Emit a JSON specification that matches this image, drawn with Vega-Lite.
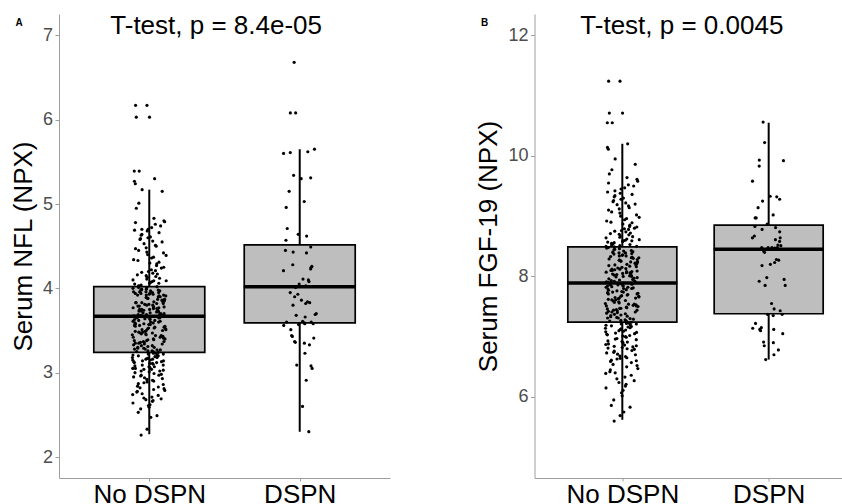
{
"$schema": "https://vega.github.io/schema/vega-lite/v6.json",
"padding": {"left": 10, "top": 13, "right": 0, "bottom": 0},
"spacing": 85.5,
"config": {
 "font": "Liberation Sans",
 "view": {"stroke": null},
 "axisY": {"labelFontSize": 18, "labelColor": "#4D4D4D", "tickColor": "#9E9E9E", "domainColor": "#9E9E9E", "tickSize": 4, "labelPadding": 2.5, "titleFontSize": 26, "titleFontWeight": "normal", "titleColor": "black", "grid": false, "titlePadding": 6, "format": "d"},
 "axisX": {"labelFontSize": 26, "labelColor": "black", "tickColor": "#9E9E9E", "domainColor": "#9E9E9E", "tickSize": 3, "labelPadding": 0, "labelAngle": 0, "grid": false},
 "title": {"fontSize": 10, "fontWeight": "bold", "color": "black", "anchor": "start", "frame": "bounds"}
},
"datasets": {
 "boxA": [{"g":"No DSPN","lo":2.27,"q1":3.24,"med":3.67,"q3":4.02,"hi":5.17},{"g":"DSPN","lo":2.30,"q1":3.59,"med":4.02,"q3":4.515,"hi":5.65}],
 "boxB": [{"g":"No DSPN","lo":5.62,"q1":7.24,"med":7.89,"q3":8.49,"hi":10.20},{"g":"DSPN","lo":6.62,"q1":7.38,"med":8.45,"q3":8.85,"hi":10.55}],
 "labA": [{"g":"No DSPN","y":7.01,"label":"T-test, p = 8.4e-05"}],
 "labB": [{"g":"No DSPN","y":12.02,"label":"T-test, p = 0.0045"}],
 "ptsA": [
{"g":"No DSPN","v":2.26},{"g":"No DSPN","v":2.33},{"g":"No DSPN","v":2.47},{"g":"No DSPN","v":2.49},{"g":"No DSPN","v":2.53},{"g":"No DSPN","v":2.57},{"g":"No DSPN","v":2.59},
{"g":"No DSPN","v":2.61},{"g":"No DSPN","v":2.62},{"g":"No DSPN","v":2.64},{"g":"No DSPN","v":2.66},{"g":"No DSPN","v":2.67},{"g":"No DSPN","v":2.68},{"g":"No DSPN","v":2.69},
{"g":"No DSPN","v":2.70},{"g":"No DSPN","v":2.71},{"g":"No DSPN","v":2.73},{"g":"No DSPN","v":2.74},{"g":"No DSPN","v":2.75},{"g":"No DSPN","v":2.77},{"g":"No DSPN","v":2.78},{"g":"No DSPN","v":2.79},
{"g":"No DSPN","v":2.80},{"g":"No DSPN","v":2.81},{"g":"No DSPN","v":2.82},{"g":"No DSPN","v":2.83},{"g":"No DSPN","v":2.84},{"g":"No DSPN","v":2.86},{"g":"No DSPN","v":2.87},{"g":"No DSPN","v":2.88},{"g":"No DSPN","v":2.89},
{"g":"No DSPN","v":2.90},{"g":"No DSPN","v":2.91},{"g":"No DSPN","v":2.92},{"g":"No DSPN","v":2.93},{"g":"No DSPN","v":2.94},{"g":"No DSPN","v":2.95},{"g":"No DSPN","v":2.96},{"g":"No DSPN","v":2.97},{"g":"No DSPN","v":2.97},{"g":"No DSPN","v":2.98},{"g":"No DSPN","v":2.99},
{"g":"No DSPN","v":3.00},{"g":"No DSPN","v":3.01},{"g":"No DSPN","v":3.02},{"g":"No DSPN","v":3.02},{"g":"No DSPN","v":3.03},{"g":"No DSPN","v":3.04},{"g":"No DSPN","v":3.05},{"g":"No DSPN","v":3.05},{"g":"No DSPN","v":3.06},{"g":"No DSPN","v":3.07},{"g":"No DSPN","v":3.07},{"g":"No DSPN","v":3.08},{"g":"No DSPN","v":3.09},{"g":"No DSPN","v":3.09},{"g":"No DSPN","v":3.04},
{"g":"No DSPN","v":3.10},{"g":"No DSPN","v":3.11},{"g":"No DSPN","v":3.11},{"g":"No DSPN","v":3.12},{"g":"No DSPN","v":3.12},{"g":"No DSPN","v":3.13},{"g":"No DSPN","v":3.13},{"g":"No DSPN","v":3.14},{"g":"No DSPN","v":3.14},{"g":"No DSPN","v":3.15},{"g":"No DSPN","v":3.15},{"g":"No DSPN","v":3.16},{"g":"No DSPN","v":3.16},{"g":"No DSPN","v":3.17},{"g":"No DSPN","v":3.17},{"g":"No DSPN","v":3.18},{"g":"No DSPN","v":3.18},{"g":"No DSPN","v":3.19},
{"g":"No DSPN","v":3.20},{"g":"No DSPN","v":3.20},{"g":"No DSPN","v":3.21},{"g":"No DSPN","v":3.21},{"g":"No DSPN","v":3.22},{"g":"No DSPN","v":3.22},{"g":"No DSPN","v":3.23},{"g":"No DSPN","v":3.23},{"g":"No DSPN","v":3.24},{"g":"No DSPN","v":3.24},{"g":"No DSPN","v":3.25},{"g":"No DSPN","v":3.25},{"g":"No DSPN","v":3.26},{"g":"No DSPN","v":3.26},{"g":"No DSPN","v":3.27},{"g":"No DSPN","v":3.27},{"g":"No DSPN","v":3.28},{"g":"No DSPN","v":3.28},{"g":"No DSPN","v":3.29},{"g":"No DSPN","v":3.29},
{"g":"No DSPN","v":3.30},{"g":"No DSPN","v":3.30},{"g":"No DSPN","v":3.31},{"g":"No DSPN","v":3.32},{"g":"No DSPN","v":3.32},{"g":"No DSPN","v":3.33},{"g":"No DSPN","v":3.34},{"g":"No DSPN","v":3.34},{"g":"No DSPN","v":3.35},{"g":"No DSPN","v":3.35},{"g":"No DSPN","v":3.36},{"g":"No DSPN","v":3.36},{"g":"No DSPN","v":3.37},{"g":"No DSPN","v":3.37},{"g":"No DSPN","v":3.38},{"g":"No DSPN","v":3.38},{"g":"No DSPN","v":3.39},{"g":"No DSPN","v":3.39},
{"g":"No DSPN","v":3.40},{"g":"No DSPN","v":3.40},{"g":"No DSPN","v":3.41},{"g":"No DSPN","v":3.42},{"g":"No DSPN","v":3.42},{"g":"No DSPN","v":3.43},{"g":"No DSPN","v":3.44},{"g":"No DSPN","v":3.44},{"g":"No DSPN","v":3.45},{"g":"No DSPN","v":3.45},{"g":"No DSPN","v":3.46},{"g":"No DSPN","v":3.46},{"g":"No DSPN","v":3.47},{"g":"No DSPN","v":3.47},{"g":"No DSPN","v":3.48},{"g":"No DSPN","v":3.48},{"g":"No DSPN","v":3.49},{"g":"No DSPN","v":3.49},
{"g":"No DSPN","v":3.50},{"g":"No DSPN","v":3.50},{"g":"No DSPN","v":3.51},{"g":"No DSPN","v":3.51},{"g":"No DSPN","v":3.52},{"g":"No DSPN","v":3.52},{"g":"No DSPN","v":3.53},{"g":"No DSPN","v":3.53},{"g":"No DSPN","v":3.54},{"g":"No DSPN","v":3.54},{"g":"No DSPN","v":3.55},{"g":"No DSPN","v":3.55},{"g":"No DSPN","v":3.56},{"g":"No DSPN","v":3.56},{"g":"No DSPN","v":3.57},{"g":"No DSPN","v":3.57},{"g":"No DSPN","v":3.58},{"g":"No DSPN","v":3.58},{"g":"No DSPN","v":3.59},{"g":"No DSPN","v":3.59},
{"g":"No DSPN","v":3.60},{"g":"No DSPN","v":3.60},{"g":"No DSPN","v":3.61},{"g":"No DSPN","v":3.61},{"g":"No DSPN","v":3.62},{"g":"No DSPN","v":3.62},{"g":"No DSPN","v":3.63},{"g":"No DSPN","v":3.63},{"g":"No DSPN","v":3.64},{"g":"No DSPN","v":3.64},{"g":"No DSPN","v":3.65},{"g":"No DSPN","v":3.65},{"g":"No DSPN","v":3.65},{"g":"No DSPN","v":3.66},{"g":"No DSPN","v":3.66},{"g":"No DSPN","v":3.67},{"g":"No DSPN","v":3.67},{"g":"No DSPN","v":3.67},{"g":"No DSPN","v":3.68},{"g":"No DSPN","v":3.68},{"g":"No DSPN","v":3.69},{"g":"No DSPN","v":3.69},{"g":"No DSPN","v":3.69},{"g":"No DSPN","v":3.66},
{"g":"No DSPN","v":3.70},{"g":"No DSPN","v":3.70},{"g":"No DSPN","v":3.71},{"g":"No DSPN","v":3.71},{"g":"No DSPN","v":3.72},{"g":"No DSPN","v":3.72},{"g":"No DSPN","v":3.73},{"g":"No DSPN","v":3.73},{"g":"No DSPN","v":3.74},{"g":"No DSPN","v":3.74},{"g":"No DSPN","v":3.75},{"g":"No DSPN","v":3.75},{"g":"No DSPN","v":3.76},{"g":"No DSPN","v":3.76},{"g":"No DSPN","v":3.77},{"g":"No DSPN","v":3.77},{"g":"No DSPN","v":3.78},{"g":"No DSPN","v":3.78},{"g":"No DSPN","v":3.79},{"g":"No DSPN","v":3.79},{"g":"No DSPN","v":3.75},{"g":"No DSPN","v":3.73},
{"g":"No DSPN","v":3.80},{"g":"No DSPN","v":3.80},{"g":"No DSPN","v":3.81},{"g":"No DSPN","v":3.81},{"g":"No DSPN","v":3.82},{"g":"No DSPN","v":3.82},{"g":"No DSPN","v":3.83},{"g":"No DSPN","v":3.83},{"g":"No DSPN","v":3.84},{"g":"No DSPN","v":3.84},{"g":"No DSPN","v":3.85},{"g":"No DSPN","v":3.85},{"g":"No DSPN","v":3.86},{"g":"No DSPN","v":3.86},{"g":"No DSPN","v":3.87},{"g":"No DSPN","v":3.87},{"g":"No DSPN","v":3.88},{"g":"No DSPN","v":3.88},{"g":"No DSPN","v":3.89},{"g":"No DSPN","v":3.89},{"g":"No DSPN","v":3.85},{"g":"No DSPN","v":3.83},
{"g":"No DSPN","v":3.90},{"g":"No DSPN","v":3.90},{"g":"No DSPN","v":3.91},{"g":"No DSPN","v":3.91},{"g":"No DSPN","v":3.92},{"g":"No DSPN","v":3.92},{"g":"No DSPN","v":3.93},{"g":"No DSPN","v":3.93},{"g":"No DSPN","v":3.94},{"g":"No DSPN","v":3.94},{"g":"No DSPN","v":3.95},{"g":"No DSPN","v":3.95},{"g":"No DSPN","v":3.96},{"g":"No DSPN","v":3.96},{"g":"No DSPN","v":3.97},{"g":"No DSPN","v":3.97},{"g":"No DSPN","v":3.98},{"g":"No DSPN","v":3.98},{"g":"No DSPN","v":3.99},{"g":"No DSPN","v":3.99},{"g":"No DSPN","v":3.96},{"g":"No DSPN","v":3.94},{"g":"No DSPN","v":3.98},{"g":"No DSPN","v":3.92},
{"g":"No DSPN","v":4.00},{"g":"No DSPN","v":4.01},{"g":"No DSPN","v":4.01},{"g":"No DSPN","v":4.02},{"g":"No DSPN","v":4.03},{"g":"No DSPN","v":4.03},{"g":"No DSPN","v":4.04},{"g":"No DSPN","v":4.05},{"g":"No DSPN","v":4.06},{"g":"No DSPN","v":4.06},{"g":"No DSPN","v":4.07},{"g":"No DSPN","v":4.08},{"g":"No DSPN","v":4.09},{"g":"No DSPN","v":4.09},
{"g":"No DSPN","v":4.10},{"g":"No DSPN","v":4.11},{"g":"No DSPN","v":4.12},{"g":"No DSPN","v":4.13},{"g":"No DSPN","v":4.14},{"g":"No DSPN","v":4.15},{"g":"No DSPN","v":4.16},{"g":"No DSPN","v":4.17},{"g":"No DSPN","v":4.18},{"g":"No DSPN","v":4.19},
{"g":"No DSPN","v":4.20},{"g":"No DSPN","v":4.21},{"g":"No DSPN","v":4.22},{"g":"No DSPN","v":4.24},{"g":"No DSPN","v":4.25},{"g":"No DSPN","v":4.27},{"g":"No DSPN","v":4.29},
{"g":"No DSPN","v":4.30},{"g":"No DSPN","v":4.31},{"g":"No DSPN","v":4.33},{"g":"No DSPN","v":4.34},{"g":"No DSPN","v":4.36},{"g":"No DSPN","v":4.37},{"g":"No DSPN","v":4.39},
{"g":"No DSPN","v":4.40},{"g":"No DSPN","v":4.42},{"g":"No DSPN","v":4.43},{"g":"No DSPN","v":4.45},{"g":"No DSPN","v":4.47},{"g":"No DSPN","v":4.48},
{"g":"No DSPN","v":4.50},{"g":"No DSPN","v":4.51},{"g":"No DSPN","v":4.53},{"g":"No DSPN","v":4.55},{"g":"No DSPN","v":4.56},{"g":"No DSPN","v":4.58},{"g":"No DSPN","v":4.59},
{"g":"No DSPN","v":4.60},{"g":"No DSPN","v":4.61},{"g":"No DSPN","v":4.63},{"g":"No DSPN","v":4.64},{"g":"No DSPN","v":4.66},{"g":"No DSPN","v":4.68},{"g":"No DSPN","v":4.69},
{"g":"No DSPN","v":4.70},{"g":"No DSPN","v":4.70},{"g":"No DSPN","v":4.72},{"g":"No DSPN","v":4.74},{"g":"No DSPN","v":4.76},{"g":"No DSPN","v":4.78},{"g":"No DSPN","v":4.79},
{"g":"No DSPN","v":4.80},{"g":"No DSPN","v":4.83},{"g":"No DSPN","v":4.95},{"g":"No DSPN","v":5.01},{"g":"No DSPN","v":5.15},{"g":"No DSPN","v":5.17},{"g":"No DSPN","v":5.24},{"g":"No DSPN","v":5.27},{"g":"No DSPN","v":5.30},{"g":"No DSPN","v":5.39},{"g":"No DSPN","v":5.39},{"g":"No DSPN","v":6.03},{"g":"No DSPN","v":6.03},{"g":"No DSPN","v":6.17},{"g":"No DSPN","v":6.17},
{"g":"DSPN","v":6.68},{"g":"DSPN","v":6.08},{"g":"DSPN","v":6.08},{"g":"DSPN","v":5.65},{"g":"DSPN","v":5.61},{"g":"DSPN","v":5.60},{"g":"DSPN","v":5.62},{"g":"DSPN","v":5.34},{"g":"DSPN","v":5.30},{"g":"DSPN","v":5.31},
{"g":"DSPN","v":5.15},{"g":"DSPN","v":5.03},{"g":"DSPN","v":4.96},{"g":"DSPN","v":4.71},{"g":"DSPN","v":4.64},{"g":"DSPN","v":4.57},{"g":"DSPN","v":4.62},{"g":"DSPN","v":4.49},{"g":"DSPN","v":4.43},{"g":"DSPN","v":4.45},
{"g":"DSPN","v":4.42},{"g":"DSPN","v":4.25},{"g":"DSPN","v":4.21},{"g":"DSPN","v":4.23},{"g":"DSPN","v":4.26},{"g":"DSPN","v":4.28},{"g":"DSPN","v":4.11},{"g":"DSPN","v":4.03},{"g":"DSPN","v":4.05},{"g":"DSPN","v":4.10},
{"g":"DSPN","v":4.08},{"g":"DSPN","v":4.01},{"g":"DSPN","v":3.90},{"g":"DSPN","v":3.83},{"g":"DSPN","v":3.86},{"g":"DSPN","v":3.82},{"g":"DSPN","v":3.84},{"g":"DSPN","v":3.80},{"g":"DSPN","v":3.95},{"g":"DSPN","v":3.93},
{"g":"DSPN","v":3.69},{"g":"DSPN","v":3.68},{"g":"DSPN","v":3.70},{"g":"DSPN","v":3.61},{"g":"DSPN","v":3.66},{"g":"DSPN","v":3.60},{"g":"DSPN","v":3.58},{"g":"DSPN","v":3.59},{"g":"DSPN","v":3.57},{"g":"DSPN","v":3.60},
{"g":"DSPN","v":3.56},{"g":"DSPN","v":3.58},{"g":"DSPN","v":3.51},{"g":"DSPN","v":3.43},{"g":"DSPN","v":3.44},{"g":"DSPN","v":3.41},{"g":"DSPN","v":3.35},{"g":"DSPN","v":3.37},{"g":"DSPN","v":3.36},{"g":"DSPN","v":3.33},
{"g":"DSPN","v":3.23},{"g":"DSPN","v":3.09},{"g":"DSPN","v":3.08},{"g":"DSPN","v":3.05},{"g":"DSPN","v":2.91},{"g":"DSPN","v":2.60},{"g":"DSPN","v":2.30}
 ],
 "ptsB": [
{"g":"No DSPN","v":5.60},{"g":"No DSPN","v":5.69},{"g":"No DSPN","v":5.75},{"g":"No DSPN","v":5.83},{"g":"No DSPN","v":5.86},{"g":"No DSPN","v":5.95},
{"g":"No DSPN","v":6.02},{"g":"No DSPN","v":6.07},{"g":"No DSPN","v":6.11},{"g":"No DSPN","v":6.15},{"g":"No DSPN","v":6.18},
{"g":"No DSPN","v":6.21},{"g":"No DSPN","v":6.24},{"g":"No DSPN","v":6.27},{"g":"No DSPN","v":6.30},{"g":"No DSPN","v":6.33},{"g":"No DSPN","v":6.36},{"g":"No DSPN","v":6.39},
{"g":"No DSPN","v":6.40},{"g":"No DSPN","v":6.42},{"g":"No DSPN","v":6.45},{"g":"No DSPN","v":6.47},{"g":"No DSPN","v":6.50},{"g":"No DSPN","v":6.52},{"g":"No DSPN","v":6.54},{"g":"No DSPN","v":6.57},{"g":"No DSPN","v":6.59},
{"g":"No DSPN","v":6.60},{"g":"No DSPN","v":6.61},{"g":"No DSPN","v":6.63},{"g":"No DSPN","v":6.64},{"g":"No DSPN","v":6.65},{"g":"No DSPN","v":6.67},{"g":"No DSPN","v":6.68},{"g":"No DSPN","v":6.70},{"g":"No DSPN","v":6.71},{"g":"No DSPN","v":6.73},{"g":"No DSPN","v":6.74},{"g":"No DSPN","v":6.76},{"g":"No DSPN","v":6.77},{"g":"No DSPN","v":6.79},
{"g":"No DSPN","v":6.80},{"g":"No DSPN","v":6.81},{"g":"No DSPN","v":6.82},{"g":"No DSPN","v":6.83},{"g":"No DSPN","v":6.84},{"g":"No DSPN","v":6.85},{"g":"No DSPN","v":6.86},{"g":"No DSPN","v":6.87},{"g":"No DSPN","v":6.88},{"g":"No DSPN","v":6.90},{"g":"No DSPN","v":6.91},{"g":"No DSPN","v":6.92},{"g":"No DSPN","v":6.93},{"g":"No DSPN","v":6.95},{"g":"No DSPN","v":6.96},{"g":"No DSPN","v":6.97},{"g":"No DSPN","v":6.99},
{"g":"No DSPN","v":7.00},{"g":"No DSPN","v":7.01},{"g":"No DSPN","v":7.02},{"g":"No DSPN","v":7.03},{"g":"No DSPN","v":7.04},{"g":"No DSPN","v":7.05},{"g":"No DSPN","v":7.06},{"g":"No DSPN","v":7.07},{"g":"No DSPN","v":7.08},{"g":"No DSPN","v":7.09},{"g":"No DSPN","v":7.10},{"g":"No DSPN","v":7.11},{"g":"No DSPN","v":7.12},{"g":"No DSPN","v":7.13},{"g":"No DSPN","v":7.14},{"g":"No DSPN","v":7.15},{"g":"No DSPN","v":7.16},{"g":"No DSPN","v":7.17},{"g":"No DSPN","v":7.18},{"g":"No DSPN","v":7.19},
{"g":"No DSPN","v":7.20},{"g":"No DSPN","v":7.21},{"g":"No DSPN","v":7.21},{"g":"No DSPN","v":7.22},{"g":"No DSPN","v":7.23},{"g":"No DSPN","v":7.24},{"g":"No DSPN","v":7.25},{"g":"No DSPN","v":7.26},{"g":"No DSPN","v":7.26},{"g":"No DSPN","v":7.27},{"g":"No DSPN","v":7.28},{"g":"No DSPN","v":7.29},{"g":"No DSPN","v":7.30},{"g":"No DSPN","v":7.31},{"g":"No DSPN","v":7.31},{"g":"No DSPN","v":7.32},{"g":"No DSPN","v":7.33},{"g":"No DSPN","v":7.34},{"g":"No DSPN","v":7.35},{"g":"No DSPN","v":7.36},{"g":"No DSPN","v":7.37},{"g":"No DSPN","v":7.38},{"g":"No DSPN","v":7.39},
{"g":"No DSPN","v":7.40},{"g":"No DSPN","v":7.41},{"g":"No DSPN","v":7.41},{"g":"No DSPN","v":7.42},{"g":"No DSPN","v":7.43},{"g":"No DSPN","v":7.44},{"g":"No DSPN","v":7.44},{"g":"No DSPN","v":7.45},{"g":"No DSPN","v":7.46},{"g":"No DSPN","v":7.47},{"g":"No DSPN","v":7.47},{"g":"No DSPN","v":7.48},{"g":"No DSPN","v":7.49},{"g":"No DSPN","v":7.50},{"g":"No DSPN","v":7.51},{"g":"No DSPN","v":7.51},{"g":"No DSPN","v":7.52},{"g":"No DSPN","v":7.53},{"g":"No DSPN","v":7.54},{"g":"No DSPN","v":7.54},{"g":"No DSPN","v":7.55},{"g":"No DSPN","v":7.56},{"g":"No DSPN","v":7.57},{"g":"No DSPN","v":7.58},{"g":"No DSPN","v":7.59},
{"g":"No DSPN","v":7.60},{"g":"No DSPN","v":7.61},{"g":"No DSPN","v":7.61},{"g":"No DSPN","v":7.62},{"g":"No DSPN","v":7.63},{"g":"No DSPN","v":7.64},{"g":"No DSPN","v":7.64},{"g":"No DSPN","v":7.65},{"g":"No DSPN","v":7.66},{"g":"No DSPN","v":7.67},{"g":"No DSPN","v":7.67},{"g":"No DSPN","v":7.68},{"g":"No DSPN","v":7.69},{"g":"No DSPN","v":7.70},{"g":"No DSPN","v":7.71},{"g":"No DSPN","v":7.71},{"g":"No DSPN","v":7.72},{"g":"No DSPN","v":7.73},{"g":"No DSPN","v":7.74},{"g":"No DSPN","v":7.74},{"g":"No DSPN","v":7.75},{"g":"No DSPN","v":7.76},{"g":"No DSPN","v":7.77},{"g":"No DSPN","v":7.78},{"g":"No DSPN","v":7.79},
{"g":"No DSPN","v":7.80},{"g":"No DSPN","v":7.80},{"g":"No DSPN","v":7.81},{"g":"No DSPN","v":7.82},{"g":"No DSPN","v":7.82},{"g":"No DSPN","v":7.83},{"g":"No DSPN","v":7.84},{"g":"No DSPN","v":7.84},{"g":"No DSPN","v":7.85},{"g":"No DSPN","v":7.86},{"g":"No DSPN","v":7.86},{"g":"No DSPN","v":7.87},{"g":"No DSPN","v":7.88},{"g":"No DSPN","v":7.88},{"g":"No DSPN","v":7.89},{"g":"No DSPN","v":7.90},{"g":"No DSPN","v":7.90},{"g":"No DSPN","v":7.91},{"g":"No DSPN","v":7.92},{"g":"No DSPN","v":7.92},{"g":"No DSPN","v":7.93},{"g":"No DSPN","v":7.94},{"g":"No DSPN","v":7.95},{"g":"No DSPN","v":7.96},{"g":"No DSPN","v":7.97},{"g":"No DSPN","v":7.98},{"g":"No DSPN","v":7.99},
{"g":"No DSPN","v":8.00},{"g":"No DSPN","v":8.00},{"g":"No DSPN","v":8.01},{"g":"No DSPN","v":8.02},{"g":"No DSPN","v":8.02},{"g":"No DSPN","v":8.03},{"g":"No DSPN","v":8.04},{"g":"No DSPN","v":8.04},{"g":"No DSPN","v":8.05},{"g":"No DSPN","v":8.06},{"g":"No DSPN","v":8.06},{"g":"No DSPN","v":8.07},{"g":"No DSPN","v":8.08},{"g":"No DSPN","v":8.08},{"g":"No DSPN","v":8.09},{"g":"No DSPN","v":8.10},{"g":"No DSPN","v":8.10},{"g":"No DSPN","v":8.11},{"g":"No DSPN","v":8.12},{"g":"No DSPN","v":8.12},{"g":"No DSPN","v":8.13},{"g":"No DSPN","v":8.14},{"g":"No DSPN","v":8.15},{"g":"No DSPN","v":8.16},{"g":"No DSPN","v":8.17},{"g":"No DSPN","v":8.18},{"g":"No DSPN","v":8.19},{"g":"No DSPN","v":8.19},
{"g":"No DSPN","v":8.20},{"g":"No DSPN","v":8.21},{"g":"No DSPN","v":8.21},{"g":"No DSPN","v":8.22},{"g":"No DSPN","v":8.23},{"g":"No DSPN","v":8.24},{"g":"No DSPN","v":8.24},{"g":"No DSPN","v":8.25},{"g":"No DSPN","v":8.26},{"g":"No DSPN","v":8.27},{"g":"No DSPN","v":8.27},{"g":"No DSPN","v":8.28},{"g":"No DSPN","v":8.29},{"g":"No DSPN","v":8.30},{"g":"No DSPN","v":8.31},{"g":"No DSPN","v":8.31},{"g":"No DSPN","v":8.32},{"g":"No DSPN","v":8.33},{"g":"No DSPN","v":8.34},{"g":"No DSPN","v":8.34},{"g":"No DSPN","v":8.35},{"g":"No DSPN","v":8.36},{"g":"No DSPN","v":8.37},{"g":"No DSPN","v":8.38},{"g":"No DSPN","v":8.39},{"g":"No DSPN","v":8.39},
{"g":"No DSPN","v":8.40},{"g":"No DSPN","v":8.41},{"g":"No DSPN","v":8.42},{"g":"No DSPN","v":8.43},{"g":"No DSPN","v":8.44},{"g":"No DSPN","v":8.45},{"g":"No DSPN","v":8.46},{"g":"No DSPN","v":8.47},{"g":"No DSPN","v":8.48},{"g":"No DSPN","v":8.49},{"g":"No DSPN","v":8.50},{"g":"No DSPN","v":8.50},{"g":"No DSPN","v":8.51},{"g":"No DSPN","v":8.52},{"g":"No DSPN","v":8.53},{"g":"No DSPN","v":8.54},{"g":"No DSPN","v":8.55},{"g":"No DSPN","v":8.56},{"g":"No DSPN","v":8.57},{"g":"No DSPN","v":8.58},{"g":"No DSPN","v":8.59},{"g":"No DSPN","v":8.59},
{"g":"No DSPN","v":8.60},{"g":"No DSPN","v":8.61},{"g":"No DSPN","v":8.62},{"g":"No DSPN","v":8.64},{"g":"No DSPN","v":8.65},{"g":"No DSPN","v":8.66},{"g":"No DSPN","v":8.67},{"g":"No DSPN","v":8.69},{"g":"No DSPN","v":8.70},{"g":"No DSPN","v":8.71},{"g":"No DSPN","v":8.72},{"g":"No DSPN","v":8.74},{"g":"No DSPN","v":8.75},{"g":"No DSPN","v":8.76},{"g":"No DSPN","v":8.78},{"g":"No DSPN","v":8.79},
{"g":"No DSPN","v":8.80},{"g":"No DSPN","v":8.82},{"g":"No DSPN","v":8.83},{"g":"No DSPN","v":8.85},{"g":"No DSPN","v":8.87},{"g":"No DSPN","v":8.89},{"g":"No DSPN","v":8.90},{"g":"No DSPN","v":8.92},{"g":"No DSPN","v":8.94},{"g":"No DSPN","v":8.96},{"g":"No DSPN","v":8.98},
{"g":"No DSPN","v":9.00},{"g":"No DSPN","v":9.02},{"g":"No DSPN","v":9.05},{"g":"No DSPN","v":9.07},{"g":"No DSPN","v":9.10},{"g":"No DSPN","v":9.12},{"g":"No DSPN","v":9.14},{"g":"No DSPN","v":9.17},{"g":"No DSPN","v":9.19},
{"g":"No DSPN","v":9.20},{"g":"No DSPN","v":9.22},{"g":"No DSPN","v":9.24},{"g":"No DSPN","v":9.26},{"g":"No DSPN","v":9.28},{"g":"No DSPN","v":9.30},{"g":"No DSPN","v":9.32},{"g":"No DSPN","v":9.34},{"g":"No DSPN","v":9.36},{"g":"No DSPN","v":9.38},
{"g":"No DSPN","v":9.40},{"g":"No DSPN","v":9.42},{"g":"No DSPN","v":9.45},{"g":"No DSPN","v":9.47},{"g":"No DSPN","v":9.50},{"g":"No DSPN","v":9.52},{"g":"No DSPN","v":9.55},{"g":"No DSPN","v":9.58},
{"g":"No DSPN","v":9.61},{"g":"No DSPN","v":9.64},{"g":"No DSPN","v":9.70},{"g":"No DSPN","v":9.77},{"g":"No DSPN","v":9.86},{"g":"No DSPN","v":9.95},{"g":"No DSPN","v":10.11},{"g":"No DSPN","v":10.14},{"g":"No DSPN","v":10.20},
{"g":"No DSPN","v":10.55},{"g":"No DSPN","v":10.55},{"g":"No DSPN","v":10.71},{"g":"No DSPN","v":10.71},{"g":"No DSPN","v":11.24},{"g":"No DSPN","v":11.24},
{"g":"DSPN","v":10.56},{"g":"DSPN","v":10.22},{"g":"DSPN","v":9.93},{"g":"DSPN","v":9.92},{"g":"DSPN","v":9.83},{"g":"DSPN","v":9.58},{"g":"DSPN","v":9.32},{"g":"DSPN","v":9.25},{"g":"DSPN","v":9.33},{"g":"DSPN","v":9.28},
{"g":"DSPN","v":9.14},{"g":"DSPN","v":9.02},{"g":"DSPN","v":8.97},{"g":"DSPN","v":8.97},{"g":"DSPN","v":8.87},{"g":"DSPN","v":8.83},{"g":"DSPN","v":8.81},{"g":"DSPN","v":8.74},{"g":"DSPN","v":8.78},{"g":"DSPN","v":8.67},
{"g":"DSPN","v":8.61},{"g":"DSPN","v":8.64},{"g":"DSPN","v":8.64},{"g":"DSPN","v":8.58},{"g":"DSPN","v":8.51},{"g":"DSPN","v":8.48},{"g":"DSPN","v":8.48},{"g":"DSPN","v":8.47},{"g":"DSPN","v":8.48},{"g":"DSPN","v":8.48},
{"g":"DSPN","v":8.52},{"g":"DSPN","v":8.40},{"g":"DSPN","v":8.42},{"g":"DSPN","v":8.27},{"g":"DSPN","v":8.20},{"g":"DSPN","v":8.23},{"g":"DSPN","v":8.28},{"g":"DSPN","v":8.18},{"g":"DSPN","v":7.92},{"g":"DSPN","v":7.98},
{"g":"DSPN","v":7.95},{"g":"DSPN","v":7.85},{"g":"DSPN","v":7.85},{"g":"DSPN","v":7.55},{"g":"DSPN","v":7.46},{"g":"DSPN","v":7.43},{"g":"DSPN","v":7.37},{"g":"DSPN","v":7.35},{"g":"DSPN","v":7.37},{"g":"DSPN","v":7.22},
{"g":"DSPN","v":7.14},{"g":"DSPN","v":7.12},{"g":"DSPN","v":7.12},{"g":"DSPN","v":7.15},{"g":"DSPN","v":7.10},{"g":"DSPN","v":7.05},{"g":"DSPN","v":6.90},{"g":"DSPN","v":6.91},{"g":"DSPN","v":6.85},{"g":"DSPN","v":6.78},
{"g":"DSPN","v":6.70},{"g":"DSPN","v":6.62}
 ]
},
"hconcat": [
 {
  "width": 331, "height": 464,
  "title": {"text": "A", "offset": -15, "dx": 5},
  "layer": [
   {"data": {"name": "boxA"}, "mark": {"type": "rule", "color": "black", "strokeWidth": 2},
    "encoding": {
     "x": {"field": "g", "type": "nominal", "sort": ["No DSPN", "DSPN"], "scale": {"type": "point", "padding": 0.6}, "title": null},
     "y": {"field": "lo", "type": "quantitative", "scale": {"domain": [1.751, 7.253], "nice": false, "zero": false}, "axis": {"values": [2, 3, 4, 5, 6, 7]}, "title": "Serum NFL (NPX)"},
     "y2": {"field": "hi"}}},
   {"data": {"name": "boxA"}, "mark": {"type": "bar", "fill": "#BEBEBE", "stroke": "black", "strokeWidth": 1.7, "size": 111, "opacity": 1},
    "encoding": {
     "x": {"field": "g", "type": "nominal", "sort": ["No DSPN", "DSPN"], "title": null},
     "y": {"field": "q1", "type": "quantitative", "title": "Serum NFL (NPX)"},
     "y2": {"field": "q3"}}},
   {"data": {"name": "boxA"}, "mark": {"type": "tick", "color": "black", "thickness": 3.5, "size": 112, "orient": "horizontal", "opacity": 1},
    "encoding": {
     "x": {"field": "g", "type": "nominal", "sort": ["No DSPN", "DSPN"], "title": null},
     "y": {"field": "med", "type": "quantitative", "title": "Serum NFL (NPX)"}}},
   {"data": {"name": "ptsA"},
    "transform": [{"window": [{"op": "row_number", "as": "rn"}]}, {"calculate": "(abs(sin(datum.rn*12.9898+78.233)*43758.5453)%1)-0.5", "as": "jit"}],
    "mark": {"type": "circle", "color": "black", "size": 10, "opacity": 1},
    "encoding": {
     "x": {"field": "g", "type": "nominal", "sort": ["No DSPN", "DSPN"], "title": null},
     "xOffset": {"field": "jit", "type": "quantitative", "scale": {"domain": [-0.5, 0.5], "range": [-17, 17]}},
     "y": {"field": "v", "type": "quantitative", "title": "Serum NFL (NPX)"}}},
   {"data": {"name": "labA"}, "mark": {"type": "text", "align": "left", "baseline": "alphabetic", "fontSize": 26, "dx": -39, "color": "black"},
    "encoding": {
     "x": {"field": "g", "type": "nominal", "sort": ["No DSPN", "DSPN"], "title": null},
     "y": {"field": "y", "type": "quantitative", "title": "Serum NFL (NPX)"},
     "text": {"field": "label"}}}
  ]
 },
 {
  "width": 322, "height": 464,
  "title": {"text": "B", "offset": -15, "dx": 5},
  "layer": [
   {"data": {"name": "boxB"}, "mark": {"type": "rule", "color": "black", "strokeWidth": 2},
    "encoding": {
     "x": {"field": "g", "type": "nominal", "sort": ["No DSPN", "DSPN"], "scale": {"type": "point", "padding": 0.6}, "title": null},
     "y": {"field": "lo", "type": "quantitative", "scale": {"domain": [4.655, 12.354], "nice": false, "zero": false}, "axis": {"values": [6, 8, 10, 12]}, "title": "Serum FGF-19 (NPX)"},
     "y2": {"field": "hi"}}},
   {"data": {"name": "boxB"}, "mark": {"type": "bar", "fill": "#BEBEBE", "stroke": "black", "strokeWidth": 1.7, "size": 109, "opacity": 1},
    "encoding": {
     "x": {"field": "g", "type": "nominal", "sort": ["No DSPN", "DSPN"], "title": null},
     "y": {"field": "q1", "type": "quantitative", "title": "Serum FGF-19 (NPX)"},
     "y2": {"field": "q3"}}},
   {"data": {"name": "boxB"}, "mark": {"type": "tick", "color": "black", "thickness": 3.5, "size": 110, "orient": "horizontal", "opacity": 1},
    "encoding": {
     "x": {"field": "g", "type": "nominal", "sort": ["No DSPN", "DSPN"], "title": null},
     "y": {"field": "med", "type": "quantitative", "title": "Serum FGF-19 (NPX)"}}},
   {"data": {"name": "ptsB"},
    "transform": [{"window": [{"op": "row_number", "as": "rn"}]}, {"calculate": "(abs(sin(datum.rn*12.9898+78.233)*43758.5453)%1)-0.5", "as": "jit"}],
    "mark": {"type": "circle", "color": "black", "size": 10, "opacity": 1},
    "encoding": {
     "x": {"field": "g", "type": "nominal", "sort": ["No DSPN", "DSPN"], "title": null},
     "xOffset": {"field": "jit", "type": "quantitative", "scale": {"domain": [-0.5, 0.5], "range": [-17, 17]}},
     "y": {"field": "v", "type": "quantitative", "title": "Serum FGF-19 (NPX)"}}},
   {"data": {"name": "labB"}, "mark": {"type": "text", "align": "left", "baseline": "alphabetic", "fontSize": 26, "dx": -42, "color": "black"},
    "encoding": {
     "x": {"field": "g", "type": "nominal", "sort": ["No DSPN", "DSPN"], "title": null},
     "y": {"field": "y", "type": "quantitative", "title": "Serum FGF-19 (NPX)"},
     "text": {"field": "label"}}}
  ]
 }
]
}
